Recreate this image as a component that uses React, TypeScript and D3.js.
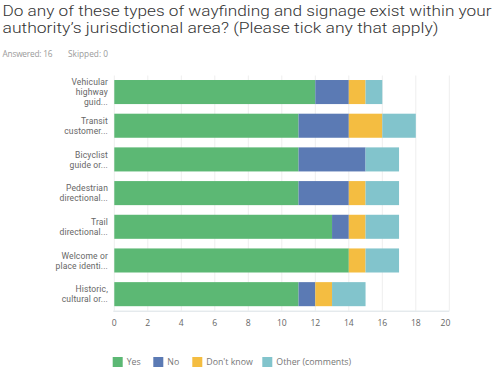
import React from 'react'
import * as d3 from 'd3'

const categories = [
  ['Vehicular', 'highway', 'guid...'],
  ['Transit', 'customer...'],
  ['Bicyclist', 'guide or...'],
  ['Pedestrian', 'directional...'],
  ['Trail', 'directional...'],
  ['Welcome or', 'place identi...'],
  ['Historic,', 'cultural or...'],
]
const seriesNames = ['Yes', 'No', "Don't know", 'Other (comments)']
const yes = [12, 11, 11, 11, 13, 14, 11]
const no = [2, 3, 4, 3, 1, 0, 1]
const dontKnow = [1, 2, 0, 1, 1, 1, 1]
const other = [1, 2, 2, 2, 2, 2, 2]
const xTicks = [0, 2, 4, 6, 8, 10, 12, 14, 16, 18, 20]
const colors = ['#5cb874', '#5b7ab4', '#f4bd41', '#82c4cc']

const W = 497
const H = 370
const margin = { top: 75.5, left: 114.3, right: 47.7, bottom: 59.3 }

const App = () => {
  const rows = categories.map((c, i) => ({
    key: String(i),
    Yes: yes[i],
    No: no[i],
    "Don't know": dontKnow[i],
    'Other (comments)': other[i],
  }))
  const stacked = d3.stack<any>().keys(seriesNames)(rows)

  const x = d3.scaleLinear().domain([0, 20]).range([margin.left, W - margin.right])
  const y = d3.scaleBand<string>()
    .domain(rows.map(r => r.key))
    .range([margin.top, H - margin.bottom])
    .paddingInner(0.286)
    .paddingOuter(0.134)

  const legendX = [112.7, 153.3, 192.3, 262.3]

  return (
    <div style={{ position: 'absolute', left: 0, top: 0 }}>
      <svg width={W} height={H} style={{ display: 'block', background: '#fff' }}
        fontFamily="'Open Sans', sans-serif">
        <g fontFamily="Roboto, sans-serif" fontSize={14.4} fontWeight={300} fill="#333">
          <text x={2.5} y={15.8} textLength={489} lengthAdjust="spacingAndGlyphs">
            Do any of these types of wayfinding and signage exist within your
          </text>
          <text x={2.5} y={32.8} textLength={436} lengthAdjust="spacingAndGlyphs">
            authority’s jurisdictional area? (Please tick any that apply)
          </text>
        </g>
        <text x={2.5} y={57} fontSize={8.3} fill="#9a9a9a" textLength={50}>Answered: 16</text>
        <text x={68} y={57} fontSize={8.3} fill="#9a9a9a" textLength={40}>Skipped: 0</text>

        {xTicks.map(t => (
          <line key={'g' + t} x1={x(t)} x2={x(t)} y1={margin.top} y2={H - margin.bottom}
            stroke="#eeeeee" strokeWidth={1} />
        ))}
        <line x1={margin.left - 1} x2={W - margin.right} y1={H - margin.bottom + 0.5}
          y2={H - margin.bottom + 0.5} stroke="#d9e1e5" strokeWidth={1} />

        {stacked.map((s, si) => (
          <g key={s.key} fill={colors[si]}>
            {s.map((d, i) => (
              <rect key={i} x={x(d[0])} y={y(String(i))}
                width={Math.max(0, x(d[1]) - x(d[0]))} height={y.bandwidth()} />
            ))}
          </g>
        ))}

        {categories.map((lines, i) => {
          const cy = (y(String(i)) as number) + y.bandwidth() / 2
          const start = cy - ((lines.length - 1) * 10) / 2
          return (
            <text key={i} textAnchor="end" fontFamily="Roboto, sans-serif" fontSize={8.5}
              letterSpacing={0.15} fill="#666">
              {lines.map((l, j) => (
                <tspan key={j} x={108} y={start + j * 10 + 3.1}>{l}</tspan>
              ))}
            </text>
          )
        })}

        {xTicks.map((t, i) => (
          <text key={'t' + t} x={i === xTicks.length - 1 ? x(t) + 1 : x(t)} y={326}
            textAnchor={i === xTicks.length - 1 ? 'end' : 'middle'}
            fontSize={8.6} fill="#666">{t}</text>
        ))}

        {seriesNames.map((n, i) => (
          <g key={n}>
            <rect x={legendX[i]} y={357} width={10} height={10} fill={colors[i]} />
            <text x={legendX[i] + 14} y={365.3} fontSize={8.8} fill="#777">{n}</text>
          </g>
        ))}
      </svg>
    </div>
  )
}

export default App
